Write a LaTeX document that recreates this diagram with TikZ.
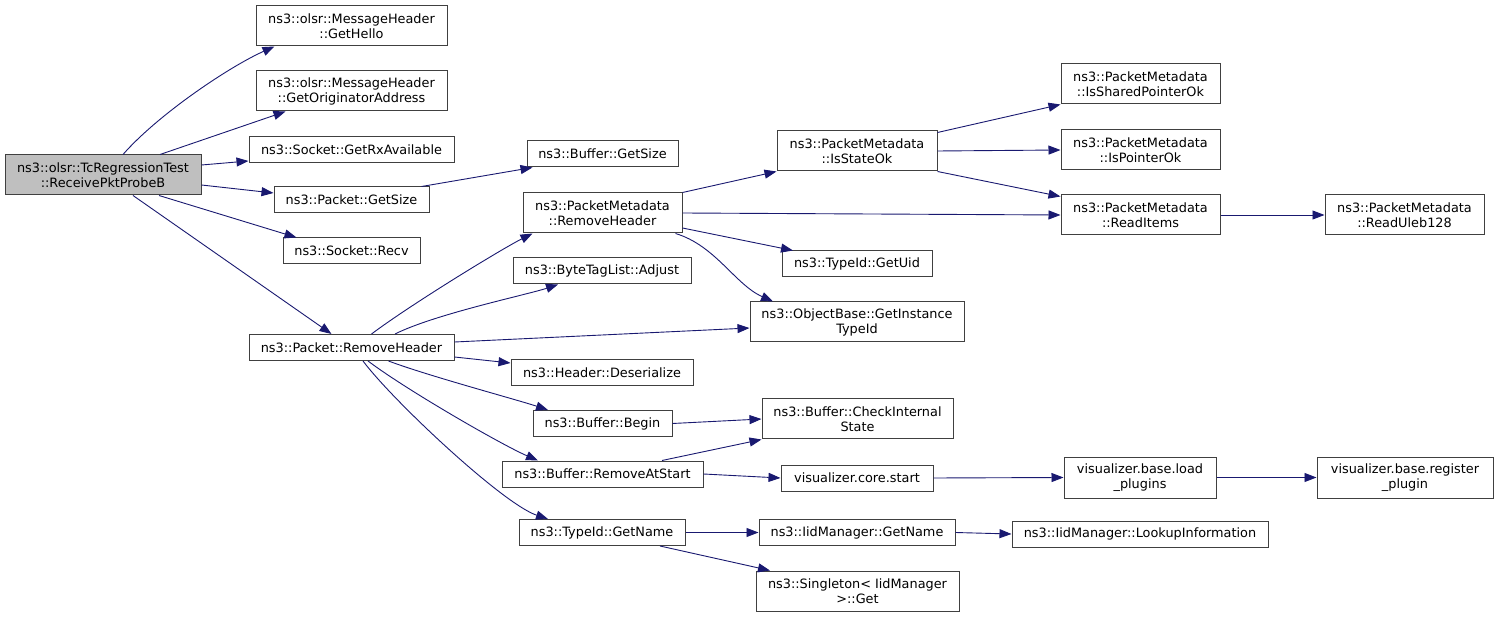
\documentclass[tikz,border=0pt]{standalone}
\usepackage{fontspec}
\setmainfont{DejaVu Sans}
\usetikzlibrary{arrows.meta}
\definecolor{edgec}{HTML}{191970}
\definecolor{bordc}{HTML}{404040}
\definecolor{rootfill}{HTML}{BFBFBF}
\begin{document}
\begin{tikzpicture}[x=1pt,y=-1pt,
  fn/.style={draw=bordc, line width=1pt, fill=white, inner sep=0pt, align=center,
    font=\fontsize{12.85}{15}\selectfont},
  call/.style={draw=edgec, line width=0.9pt, -{Triangle[length=12pt,width=9pt]}}]
\useasboundingbox (0,0) rectangle (1497,617);
% column 0
\node[fn, fill=rootfill, minimum width=196pt, minimum height=40pt] (root) at (103,175) {ns3::olsr::TcRegressionTest\\::ReceivePktProbeB};
% column 1
\node[fn, minimum width=191pt, minimum height=40pt] (gethello) at (351.5,26) {ns3::olsr::MessageHeader\\::GetHello};
\node[fn, minimum width=191pt, minimum height=40pt] (getorig) at (351.5,91) {ns3::olsr::MessageHeader\\::GetOriginatorAddress};
\node[fn, minimum width=205pt, minimum height=26pt] (rxavail) at (351.5,150) {ns3::Socket::GetRxAvailable};
\node[fn, minimum width=155pt, minimum height=26pt] (pgetsize) at (351.5,200) {ns3::Packet::GetSize};
\node[fn, minimum width=137pt, minimum height=26pt] (recv) at (351.5,251) {ns3::Socket::Recv};
\node[fn, minimum width=205pt, minimum height=26pt] (prh) at (351.5,347.5) {ns3::Packet::RemoveHeader};
% column 2
\node[fn, minimum width=151pt, minimum height=26pt] (bgetsize) at (602.5,154) {ns3::Buffer::GetSize};
\node[fn, minimum width=159pt, minimum height=40pt] (pmrh) at (602.5,213) {ns3::PacketMetadata\\::RemoveHeader};
\node[fn, minimum width=178pt, minimum height=26pt] (adjust) at (602,271) {ns3::ByteTagList::Adjust};
\node[fn, minimum width=182pt, minimum height=26pt] (deser) at (602,372.5) {ns3::Header::Deserialize};
\node[fn, minimum width=139pt, minimum height=26pt] (begin) at (602.5,423.5) {ns3::Buffer::Begin};
\node[fn, minimum width=201pt, minimum height=26pt] (ras) at (602.5,474) {ns3::Buffer::RemoveAtStart};
\node[fn, minimum width=166pt, minimum height=26pt] (tgetname) at (602,532.5) {ns3::TypeId::GetName};
% column 3
\node[fn, minimum width=160pt, minimum height=40pt] (isstate) at (857,151) {ns3::PacketMetadata\\::IsStateOk};
\node[fn, minimum width=150pt, minimum height=26pt] (getuid) at (857,264) {ns3::TypeId::GetUid};
\node[fn, minimum width=214pt, minimum height=40pt] (objbase) at (857,322) {ns3::ObjectBase::GetInstance\\TypeId};
\node[fn, minimum width=191pt, minimum height=40pt] (checkint) at (857.5,419) {ns3::Buffer::CheckInternal\\State};
\node[fn, minimum width=152pt, minimum height=26pt] (corestart) at (857,478) {visualizer.core.start};
\node[fn, minimum width=196pt, minimum height=26pt] (iidgetname) at (857,532.5) {ns3::IidManager::GetName};
\node[fn, minimum width=203pt, minimum height=40pt] (singleton) at (857.5,591) {ns3::Singleton< IidManager\\>::Get};
% column 4
\node[fn, minimum width=159pt, minimum height=40pt] (issharedptr) at (1140.5,84) {ns3::PacketMetadata\\::IsSharedPointerOk};
\node[fn, minimum width=159pt, minimum height=40pt] (isptr) at (1140.5,150) {ns3::PacketMetadata\\::IsPointerOk};
\node[fn, minimum width=159pt, minimum height=40pt] (readitems) at (1140.5,215) {ns3::PacketMetadata\\::ReadItems};
\node[fn, minimum width=152pt, minimum height=41pt] (loadplugins) at (1140,477.5) {visualizer.base.load\\\_plugins};
\node[fn, minimum width=256pt, minimum height=26pt] (lookup) at (1140,534) {ns3::IidManager::LookupInformation};
% column 5
\node[fn, minimum width=159pt, minimum height=40pt] (readuleb) at (1404.5,215) {ns3::PacketMetadata\\::ReadUleb128};
\node[fn, minimum width=176pt, minimum height=41pt] (register) at (1405,477.5) {visualizer.base.register\\\_plugin};

% edges from root
\draw[call] ([xshift=20pt]root.north) .. controls +(35,-40) and +(-45,20) .. ([xshift=-77pt]gethello.south);
\draw[call] ([xshift=57pt]root.north) -- ([xshift=-66pt]getorig.south);
\draw[call] ([yshift=10pt]root.east) -- ([yshift=-11pt]rxavail.west);
\draw[call] ([yshift=-10pt]root.east) -- ([yshift=7pt]pgetsize.west);
\draw[call] ([xshift=56pt]root.south) -- ([xshift=-55pt]recv.north);
\draw[call] ([xshift=30pt]root.south) -- ([xshift=-20pt]prh.north);
% Packet::GetSize
\draw[call] ([xshift=70pt]pgetsize.north) -- ([xshift=6pt]bgetsize.south west);
% Packet::RemoveHeader
\draw[call] ([xshift=20pt]prh.north) .. controls +(40,-30) and +(-30,15) .. ([xshift=10pt]pmrh.south west);
\draw[call] ([xshift=43.5pt]prh.north) .. controls +(40,-20) and +(-30,10) .. ([xshift=-44pt]adjust.south);
\draw[call] ([yshift=5.5pt]prh.east) -- ([yshift=-6pt]objbase.west);
\draw[call] ([yshift=-9.5pt]prh.east) -- ([yshift=9.5pt]deser.west);
\draw[call] ([xshift=37pt]prh.south) .. controls +(40,15) and +(-30,-10) .. ([xshift=-54.5pt]begin.north);
\draw[call] ([xshift=16.5pt]prh.south) .. controls +(40,30) and +(-35,-15) .. ([xshift=-64.5pt]ras.north);
\draw[call] ([xshift=11.5pt]prh.south) .. controls +(30,40) and +(-45,-15) .. ([xshift=-54pt]tgetname.north);
% PacketMetadata::RemoveHeader
\draw[call] (pmrh.north east) -- (isstate.south west);
\draw[call] (pmrh.east) -- (readitems.west);
\draw[call] ([yshift=-15pt]pmrh.east) -- ([xshift=-64pt]getuid.north);
\draw[call] ([xshift=-7pt]pmrh.south east) .. controls +(40,12) and +(-38,-17) .. ([xshift=-84pt]objbase.north);
% IsStateOk
\draw[call] ([yshift=-2pt]isstate.north east) -- (issharedptr.south west);
\draw[call] (isstate.east) -- (isptr.west);
\draw[call] (isstate.south east) -- ([yshift=-2pt]readitems.north west);
\draw[call] (readitems.east) -- (readuleb.west);
% Buffer
\draw[call] (begin.east) -- (checkint.west);
\draw[call] ([xshift=59.5pt]ras.north) -- (checkint.south west);
\draw[call] (ras.east) -- (corestart.west);
\draw[call] (corestart.east) -- (loadplugins.west);
\draw[call] (loadplugins.east) -- (register.west);
% TypeId::GetName
\draw[call] (tgetname.east) -- (iidgetname.west);
\draw[call] ([xshift=58pt]tgetname.south) -- ([xshift=-87.5pt]singleton.north);
\draw[call] (iidgetname.east) -- (lookup.west);
\end{tikzpicture}
\end{document}
